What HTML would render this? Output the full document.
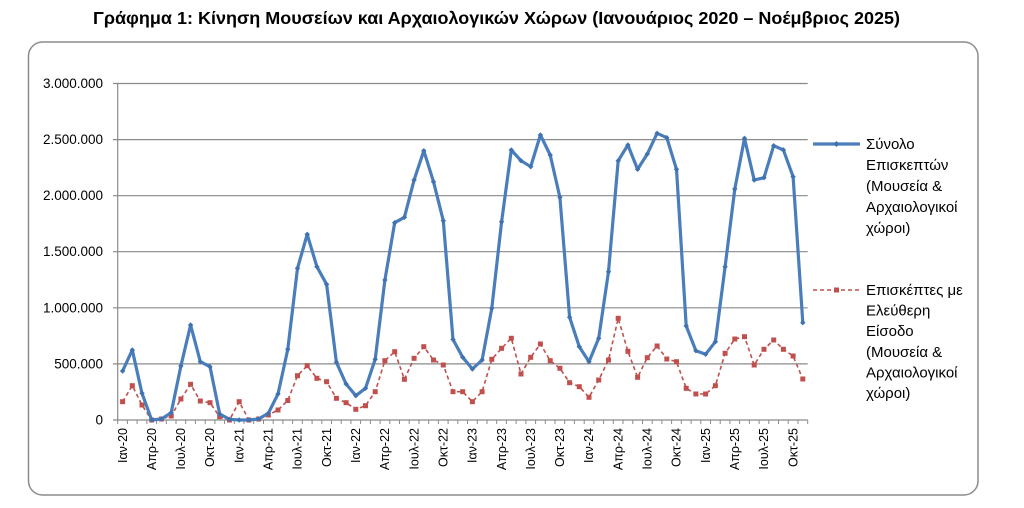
<!DOCTYPE html>
<html>
<head>
<meta charset="utf-8">
<style>
html,body{margin:0;padding:0;background:#fff;}
svg{display:block;}
text{font-family:"Liberation Sans","DejaVu Sans",sans-serif;fill:#000;}
</style>
</head>
<body>
<svg width="1024" height="508" viewBox="0 0 1024 508" xmlns="http://www.w3.org/2000/svg">
<defs>
<marker id="sq" markerUnits="userSpaceOnUse" markerWidth="7" markerHeight="7" refX="3.5" refY="3.5">
<rect x="1" y="1" width="5" height="5" fill="#C0504D"/>
</marker>
<marker id="dm" markerUnits="userSpaceOnUse" markerWidth="7" markerHeight="7" refX="3.5" refY="3.5">
<path d="M3.5 0.8 L6.2 3.5 L3.5 6.2 L0.8 3.5Z" fill="#3F72AF"/>
</marker>
</defs>

<text x="93" y="24" font-size="17.5" font-weight="bold" textLength="807" lengthAdjust="spacingAndGlyphs">Γράφημα 1: Κίνηση Μουσείων και Αρχαιολογικών Χώρων (Ιανουάριος 2020 – Νοέμβριος 2025)</text>

<rect x="28.5" y="42" width="949.5" height="453" rx="14" ry="14" fill="none" stroke="#8c8c8c" stroke-width="1.5"/>

<!-- gridlines -->
<g stroke="#8a8a8a" stroke-width="1.2">
<line x1="113" y1="83.5" x2="807.7" y2="83.5"/>
<line x1="113" y1="139.6" x2="807.7" y2="139.6"/>
<line x1="113" y1="195.7" x2="807.7" y2="195.7"/>
<line x1="113" y1="251.7" x2="807.7" y2="251.7"/>
<line x1="113" y1="307.8" x2="807.7" y2="307.8"/>
<line x1="113" y1="363.9" x2="807.7" y2="363.9"/>
<line x1="113" y1="420" x2="807.7" y2="420"/>
<line x1="117.7" y1="83.5" x2="117.7" y2="420"/>
</g>

<!-- x ticks -->
<path stroke="#8a8a8a" stroke-width="1" fill="none" d="M117.7 420v4M127.4 420v4M137.1 420v4M146.9 420v4M156.6 420v4M166.3 420v4M176 420v4M185.7 420v4M195.4 420v4M205.2 420v4M214.9 420v4M224.6 420v4M234.3 420v4M244 420v4M253.7 420v4M263.5 420v4M273.2 420v4M282.9 420v4M292.6 420v4M302.3 420v4M312.1 420v4M321.8 420v4M331.5 420v4M341.2 420v4M350.9 420v4M360.6 420v4M370.4 420v4M380.1 420v4M389.8 420v4M399.5 420v4M409.2 420v4M419 420v4M428.7 420v4M438.4 420v4M448.1 420v4M457.8 420v4M467.5 420v4M477.3 420v4M487 420v4M496.7 420v4M506.4 420v4M516.1 420v4M525.9 420v4M535.6 420v4M545.3 420v4M555 420v4M564.7 420v4M574.4 420v4M584.2 420v4M593.9 420v4M603.6 420v4M613.3 420v4M623 420v4M632.8 420v4M642.5 420v4M652.2 420v4M661.9 420v4M671.6 420v4M681.3 420v4M691.1 420v4M700.8 420v4M710.5 420v4M720.2 420v4M729.9 420v4M739.6 420v4M749.4 420v4M759.1 420v4M768.8 420v4M778.5 420v4M788.2 420v4M798 420v4M807.7 420v4"/>

<!-- y labels -->
<g font-size="13.5" text-anchor="end">
<text x="103" y="88">3.000.000</text>
<text x="103" y="144.1">2.500.000</text>
<text x="103" y="200.2">2.000.000</text>
<text x="103" y="256.2">1.500.000</text>
<text x="103" y="312.3">1.000.000</text>
<text x="103" y="368.4">500.000</text>
<text x="103" y="424.5">0</text>
</g>

<!-- x labels -->
<g font-size="12.5" text-anchor="end">
<text transform="translate(126.8,428) rotate(-90)">Ιαν-20</text>
<text transform="translate(155.9,428) rotate(-90)">Απρ-20</text>
<text transform="translate(185.1,428) rotate(-90)">Ιουλ-20</text>
<text transform="translate(214.2,428) rotate(-90)">Οκτ-20</text>
<text transform="translate(243.4,428) rotate(-90)">Ιαν-21</text>
<text transform="translate(272.5,428) rotate(-90)">Απρ-21</text>
<text transform="translate(301.7,428) rotate(-90)">Ιουλ-21</text>
<text transform="translate(330.8,428) rotate(-90)">Οκτ-21</text>
<text transform="translate(360,428) rotate(-90)">Ιαν-22</text>
<text transform="translate(389.1,428) rotate(-90)">Απρ-22</text>
<text transform="translate(418.3,428) rotate(-90)">Ιουλ-22</text>
<text transform="translate(447.5,428) rotate(-90)">Οκτ-22</text>
<text transform="translate(476.6,428) rotate(-90)">Ιαν-23</text>
<text transform="translate(505.8,428) rotate(-90)">Απρ-23</text>
<text transform="translate(534.9,428) rotate(-90)">Ιουλ-23</text>
<text transform="translate(564.1,428) rotate(-90)">Οκτ-23</text>
<text transform="translate(593.2,428) rotate(-90)">Ιαν-24</text>
<text transform="translate(622.4,428) rotate(-90)">Απρ-24</text>
<text transform="translate(651.5,428) rotate(-90)">Ιουλ-24</text>
<text transform="translate(680.7,428) rotate(-90)">Οκτ-24</text>
<text transform="translate(709.8,428) rotate(-90)">Ιαν-25</text>
<text transform="translate(739,428) rotate(-90)">Απρ-25</text>
<text transform="translate(768.2,428) rotate(-90)">Ιουλ-25</text>
<text transform="translate(797.3,428) rotate(-90)">Οκτ-25</text>
</g>

<!-- red series -->
<polyline fill="none" stroke="#C0504D" stroke-width="1.6" stroke-dasharray="4,3" marker-start="url(#sq)" marker-mid="url(#sq)" marker-end="url(#sq)"
points="122.6,401.7 132.3,385.7 142,405 151.7,420 161.4,419 171.2,416 180.9,399 190.6,384.3 200.3,401 210,402.7 219.7,416.7 229.5,420 239.2,401.7 248.9,420 258.6,419 268.3,415 278,410 287.8,400.5 297.5,375.7 307.2,365.7 316.9,378.3 326.6,381.7 336.4,398.3 346.1,402.7 355.8,409.3 365.5,405.7 375.2,391.7 384.9,360.7 394.7,351.7 404.4,379.3 414.1,358.3 423.8,346.7 433.5,360 443.3,365 453,391.7 462.7,391.7 472.4,401.7 482.1,391.7 491.8,359.3 501.6,348.3 511.3,338.3 521,374 530.7,357.3 540.4,344 550.2,360.7 559.9,368.3 569.6,382.7 579.3,386.7 589,397.3 598.7,380 608.5,360 618.2,318.3 627.9,351.3 637.6,377.3 647.3,357.7 657.1,346 666.8,359 676.5,361.7 686.2,388.3 695.9,394 705.6,394 715.4,385.7 725.1,353.3 734.8,339 744.5,336.7 754.2,365 764,349.3 773.7,340 783.4,349.3 793.1,356 802.8,379"/>

<!-- blue series -->
<polyline fill="none" stroke="#4A7EBB" stroke-width="3.2" stroke-linejoin="round" marker-start="url(#dm)" marker-mid="url(#dm)" marker-end="url(#dm)"
points="122.6,371 132.3,350 142,393.3 151.7,420 161.4,419 171.2,412.7 180.9,366 190.6,325 200.3,361.7 210,366.7 219.7,414 229.5,419.3 239.2,420 248.9,420 258.6,419 268.3,413.3 278,394 287.8,349.3 297.5,268.3 307.2,234.3 316.9,266.7 326.6,284.3 336.4,362.3 346.1,384 355.8,395.7 365.5,388.3 375.2,359.3 384.9,280 394.7,222.7 404.4,217.3 414.1,180 423.8,150.7 433.5,181.7 443.3,220.7 453,339.5 462.7,357.3 472.4,369 482.1,360 491.8,308.3 501.6,221.7 511.3,150 521,160.7 530.7,166.7 540.4,135 550.2,155 559.9,197.3 569.6,317.3 579.3,346.7 589,361.7 598.7,338.3 608.5,271.7 618.2,160.7 627.9,145 637.6,169.3 647.3,154 657.1,133.3 666.8,137.7 676.5,169.3 686.2,326 695.9,350.7 705.6,354.3 715.4,341.7 725.1,266.7 734.8,189 744.5,138.3 754.2,180 764,177.7 773.7,145.7 783.4,150 793.1,176.7 802.8,322.7"/>

<!-- legend -->
<line x1="813" y1="144" x2="860" y2="144" stroke="#4A7EBB" stroke-width="3.2"/>
<path d="M836.5 141 L839.5 144 L836.5 147 L833.5 144Z" fill="#3F72AF"/>
<g font-size="15">
<text x="866" y="149">Σύνολο</text>
<text x="866" y="170">Επισκεπτών</text>
<text x="866" y="191">(Μουσεία &amp;</text>
<text x="866" y="212">Αρχαιολογικοί</text>
<text x="866" y="233">χώροι)</text>
</g>
<line x1="813" y1="290" x2="860" y2="290" stroke="#C0504D" stroke-width="1.6" stroke-dasharray="4,3"/>
<rect x="834" y="287.5" width="5" height="5" fill="#C0504D"/>
<g font-size="15">
<text x="866" y="295">Επισκέπτες με</text>
<text x="866" y="315.6">Ελεύθερη</text>
<text x="866" y="336.2">Είσοδο</text>
<text x="866" y="356.8">(Μουσεία &amp;</text>
<text x="866" y="377.4">Αρχαιολογικοί</text>
<text x="866" y="398">χώροι)</text>
</g>
</svg>
</body>
</html>
